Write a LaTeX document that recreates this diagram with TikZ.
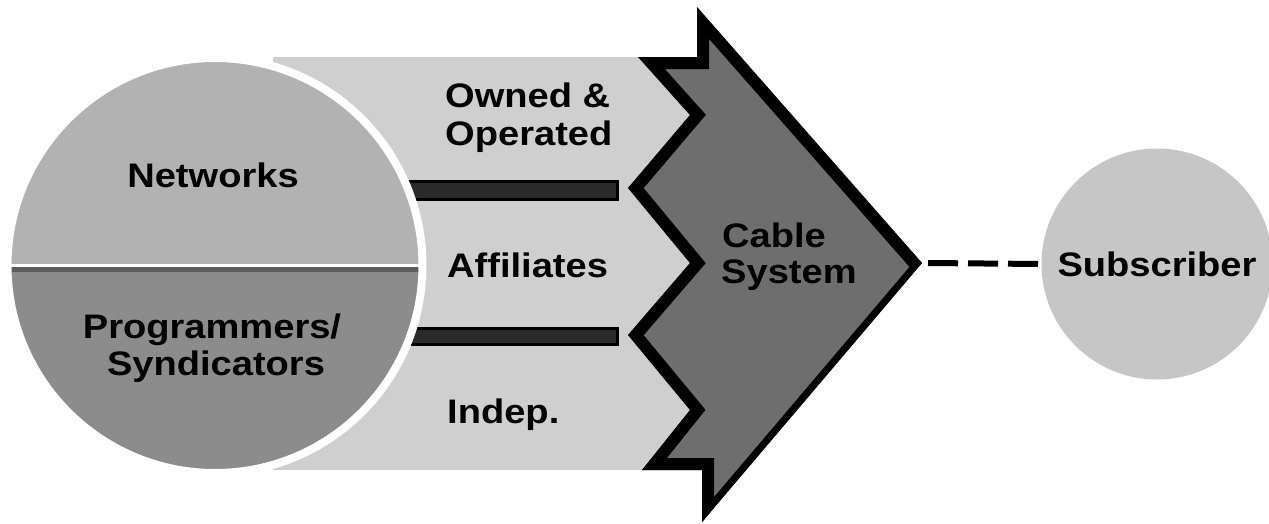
\documentclass[tikz,border=0pt]{standalone}
\usepackage{fontspec}
\newfontfamily\lab[FakeStretch=1.12]{Liberation Sans}
\definecolor{bandgray}{HTML}{CFCFCF}
\definecolor{nettop}{HTML}{B2B2B2}
\definecolor{netbot}{HTML}{8C8C8C}
\definecolor{netline}{HTML}{5E5E5E}
\definecolor{chevgray}{HTML}{6E6E6E}
\definecolor{subgray}{HTML}{C6C6C6}
\definecolor{bargray}{HTML}{2A2A2A}
\begin{document}
\begin{tikzpicture}[x=1pt,y=-1pt,
  lblfont/.style={font=\lab\bfseries\fontsize{34}{38}\selectfont},
  lbl/.style={lblfont, inner sep=0pt, anchor=base west},
  lblc/.style={lblfont, inner sep=0pt, anchor=base},
  barbox/.style={fill=bargray, draw=black, line width=3pt},
  dashln/.style={line width=6pt, dash pattern=on 30pt off 10pt}]
\useasboundingbox (0,0) rectangle (1269,523);

% light band behind the circle
\fill[bandgray] (273,57) rectangle (697,470);

% dark separator bars
\path[barbox] (400,181) rectangle (617,199);
\path[barbox] (400,328) rectangle (617,344);

% big circle
\node[circle, minimum size=415pt, inner sep=0pt, fill=nettop] (net) at (215,265.5) {};
\begin{scope}
  \clip (net.center) circle[radius=207.5pt];
  \fill[netbot] (0,265.5) rectangle (430,480);
  \fill[netline] (0,266) rectangle (430,272);
\end{scope}
\draw[white, line width=3pt] (net.west) -- (net.east);
\draw[white, line width=8pt] (net.center) circle[radius=207.5pt];

% chevron (cable system)
\coordinate (c1) at (697,7);
\coordinate (tip) at (922,263);
\coordinate (c3) at (702,522);
\coordinate (c4) at (702,470);
\coordinate (c5) at (642,470);
\coordinate (c6) at (690,410);
\coordinate (c7) at (628,335);
\coordinate (c8) at (690,263);
\coordinate (c9) at (628,188);
\coordinate (c10) at (690,115);
\coordinate (c11) at (638,57);
\coordinate (c12) at (697,57);
\begin{scope}
  \clip (c1) -- (tip) -- (c3) -- (c4) -- (c5) -- (c6) -- (c7) -- (c8) -- (c9) -- (c10) -- (c11) -- (c12) -- cycle;
  \fill[chevgray] (600,0) rectangle (930,523);
  \draw[black, line width=14pt] (tip) -- (c3);
  \draw[black, line width=24pt, line join=miter] (tip) -- (c1) -- (c12) -- (c11) -- (c10) -- (c9) -- (c8) -- (c7) -- (c6) -- (c5) -- (c4) -- (c3);
\end{scope}

% labels
\node[lblc] (networks) at (213,187) {Networks};
\node[lblc] (prog) at (212,338) {Programmers/};
\node[lblc] (synd) at (216,375) {Syndicators};
\node[lbl] (owned) at (445,107) {Owned \&};
\node[lbl] (operated) at (445,145) {Operated};
\node[lbl] (affil) at (447,277) {Affiliates};
\node[lbl] (indep) at (447,423) {Indep.};
\node[lbl] (cable) at (722,247) {Cable};
\node[lbl] (system) at (721,283) {System};

% subscriber
\node[circle, minimum size=231pt, inner sep=0pt, fill=subgray, lblfont] (sub) at (1157,264) {Subscriber};

% dashed connector
\draw[dashln] ([xshift=6pt]tip) -- (sub.west);
\end{tikzpicture}
\end{document}
